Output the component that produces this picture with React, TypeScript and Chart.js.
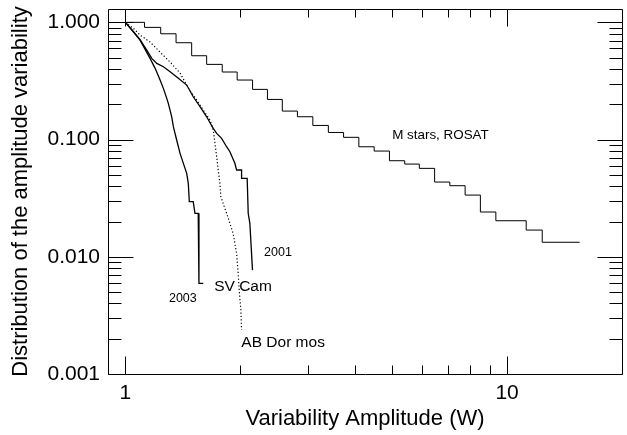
import { useEffect, useRef } from 'react';
import { Chart, registerables } from 'chart.js';

Chart.register(...registerables);

// ---- Data ----
const MSTARS_X = [1, 1.122, 1.237, 1.357, 1.491, 1.632, 1.793, 1.962, 2.153, 2.355, 2.576, 2.822, 3.097, 3.401, 3.728, 4.088, 4.484, 4.917, 5.391, 5.888, 6.457, 7.079, 7.762, 8.511, 9.343, 11.22, 12.36, 15.49];
const MSTARS_Y = [1.0, 0.906, 0.799, 0.670, 0.519, 0.438, 0.377, 0.322, 0.268, 0.220, 0.175, 0.1566, 0.132, 0.115, 0.1045, 0.0868, 0.0798, 0.066, 0.0618, 0.0568, 0.0434, 0.0404, 0.0336, 0.0241, 0.0203, 0.0169, 0.0133, 0.0133];

const SV2003_X = [1, 1.049, 1.092, 1.126, 1.160, 1.196, 1.227, 1.257, 1.283, 1.295, 1.322, 1.335, 1.362, 1.390, 1.418, 1.447, 1.461, 1.470, 1.505, 1.521, 1.551, 1.558, 1.599];
const SV2003_Y = [1, 0.831, 0.706, 0.588, 0.493, 0.405, 0.333, 0.2735, 0.2247, 0.2037, 0.1565, 0.1287, 0.0991, 0.0763, 0.0627, 0.0515, 0.0423, 0.0295, 0.0295, 0.0235, 0.0235, 0.00594, 0.00594];

const SV2001_X = [1, 1.049, 1.092, 1.137, 1.172, 1.208, 1.257, 1.309, 1.376, 1.447, 1.505, 1.568, 1.632, 1.698, 1.734, 1.786, 1.841, 1.878, 1.935, 1.955, 2.015, 2.015, 2.084, 2.097, 2.118, 2.152];
const SV2001_Y = [1, 0.831, 0.713, 0.580, 0.493, 0.447, 0.418, 0.379, 0.333, 0.2918, 0.2319, 0.1906, 0.1565, 0.1247, 0.113, 0.1024, 0.0869, 0.0787, 0.0627, 0.055, 0.055, 0.0467, 0.0467, 0.0235, 0.0193, 0.0077];

const ABDOR_X = [1, 1.049, 1.092, 1.160, 1.232, 1.309, 1.390, 1.461, 1.537, 1.599, 1.665, 1.698, 1.716, 1.734, 1.750, 1.768, 1.778, 1.841, 1.915, 1.955, 1.974, 1.986, 2.006, 2.015];
const ABDOR_Y = [1, 0.889, 0.779, 0.679, 0.558, 0.4585, 0.3694, 0.2752, 0.2174, 0.1786, 0.1468, 0.1206, 0.0929, 0.0714, 0.055, 0.0423, 0.0325, 0.0235, 0.0158, 0.0107, 0.00722, 0.0052, 0.00351, 0.00237];

const X_MAJOR = [1, 10];
const X_MINOR = [2, 3, 4, 5, 6, 7, 8, 9];
const Y_MAJOR = [0.001, 0.01, 0.1, 1];
const Y_MINOR = [0.002, 0.003, 0.004, 0.005, 0.006, 0.007, 0.008, 0.009, 0.02, 0.03, 0.04, 0.05, 0.06, 0.07, 0.08, 0.09, 0.2, 0.3, 0.4, 0.5, 0.6, 0.7, 0.8, 0.9];

const LABEL_TEXTS = ['M stars, ROSAT', '2001', '2003', 'SV Cam', 'AB Dor mos'];
const LABEL_X = [5.0, 2.307, 1.30, 1.708, 2.012];
const LABEL_Y = [0.108, 0.01083, 0.00436, 0.00555, 0.00185];
const LABEL_FONT = [13.4, 12.5, 12.5, 15.5, 15.5];

const FONT = '"Liberation Sans", Arial, Helvetica, sans-serif';

const pts = (xs: number[], ys: number[]) => xs.map((x, i) => ({ x, y: ys[i] }));

const framePlugin = {
  id: 'frameTicks',
  afterDatasetsDraw(chart: any) {
    const { ctx, chartArea } = chart;
    const { left, right, top, bottom } = chartArea;
    const xs = chart.scales.x;
    const ys = chart.scales.y;
    ctx.save();
    ctx.strokeStyle = '#000';
    ctx.lineWidth = 1;
    ctx.beginPath();
    ctx.rect(left + 0.5, top + 0.5, right - left, bottom - top);
    const xt = (v: number, lb: number, lt: number) => {
      const p = Math.round(xs.getPixelForValue(v)) + 0.5;
      ctx.moveTo(p, bottom + 0.5);
      ctx.lineTo(p, bottom + 0.5 - lb);
      ctx.moveTo(p, top + 0.5);
      ctx.lineTo(p, top + 0.5 + lt);
    };
    const yt = (v: number, len: number) => {
      const p = Math.round(ys.getPixelForValue(v)) + 0.5;
      ctx.moveTo(left + 0.5, p);
      ctx.lineTo(left + 0.5 + len, p);
      ctx.moveTo(right + 0.5, p);
      ctx.lineTo(right + 0.5 - len, p);
    };
    X_MAJOR.forEach((v) => xt(v, 18, 17));
    X_MINOR.forEach((v) => xt(v, 9, 8));
    Y_MAJOR.forEach((v) => yt(v, 25));
    Y_MINOR.forEach((v) => yt(v, 13));
    ctx.stroke();

    ctx.fillStyle = '#000';
    ctx.textAlign = 'left';
    ctx.textBaseline = 'middle';
    LABEL_TEXTS.forEach((t, i) => {
      ctx.font = `${LABEL_FONT[i]}px ${FONT}`;
      ctx.fillText(t, xs.getPixelForValue(LABEL_X[i]), ys.getPixelForValue(LABEL_Y[i]));
    });
    ctx.restore();
  },
};

export default function App() {
  const ref = useRef<HTMLCanvasElement | null>(null);
  useEffect(() => {
    if (!ref.current) return;
    const line = { borderColor: '#000', pointRadius: 0, tension: 0, fill: false };
    const chart = new Chart(ref.current, {
      type: 'line',
      data: {
        datasets: [
          { ...line, label: 'M stars, ROSAT', data: pts(MSTARS_X, MSTARS_Y), borderWidth: 1, stepped: 'before' },
          { ...line, label: 'SV Cam 2003', data: pts(SV2003_X, SV2003_Y), borderWidth: 1.3 },
          { ...line, label: 'SV Cam 2001', data: pts(SV2001_X, SV2001_Y), borderWidth: 1.3 },
          { ...line, label: 'AB Dor mos', data: pts(ABDOR_X, ABDOR_Y), borderWidth: 1.2, borderDash: [1.2, 2.2] },
        ],
      } as any,
      options: {
        animation: false,
        responsive: false,
        devicePixelRatio: 1,
        layout: { padding: { top: 9, right: 5, left: 0, bottom: 0 } },
        plugins: { legend: { display: false }, tooltip: { enabled: false } },
        scales: {
          x: {
            type: 'logarithmic',
            min: 0.9,
            max: 20,
            grid: { display: false, drawTicks: false },
            border: { display: false },
            afterBuildTicks: (s: any) => { s.ticks = X_MAJOR.map((v) => ({ value: v })); },
            afterFit: (s: any) => { s.height = 61; s.paddingLeft = 0; s.paddingRight = 0; },
            ticks: {
              color: '#000',
              padding: 7,
              maxRotation: 0,
              autoSkip: false,
              font: { family: FONT, size: 21 },
              callback: (v: any) => String(v),
            },
            title: {
              display: true,
              text: 'Variability Amplitude (W)',
              color: '#000',
              font: { family: FONT, size: 22 },
              padding: { top: 0, bottom: 3 },
            },
          },
          y: {
            type: 'logarithmic',
            min: 0.001,
            max: 1.3,
            grid: { display: false, drawTicks: false },
            border: { display: false },
            afterBuildTicks: (s: any) => { s.ticks = Y_MAJOR.map((v) => ({ value: v })); },
            afterFit: (s: any) => { s.width = 108; s.paddingTop = 0; s.paddingBottom = 0; },
            ticks: {
              color: '#000',
              padding: 8,
              autoSkip: false,
              font: { family: FONT, size: 21 },
              callback: (v: any) => Number(v).toFixed(3),
            },
            title: {
              display: true,
              text: 'Distribution of the amplitude variability',
              color: '#000',
              font: { family: FONT, size: 22 },
              padding: { top: 8, bottom: 0 },
            },
          },
        },
      } as any,
      plugins: [framePlugin],
    });
    return () => chart.destroy();
  }, []);
  return (
    <div style={{ position: 'absolute', left: 0, top: 0, width: 627, height: 435, background: '#fff' }}>
      <canvas ref={ref} width={627} height={435} />
    </div>
  );
}
